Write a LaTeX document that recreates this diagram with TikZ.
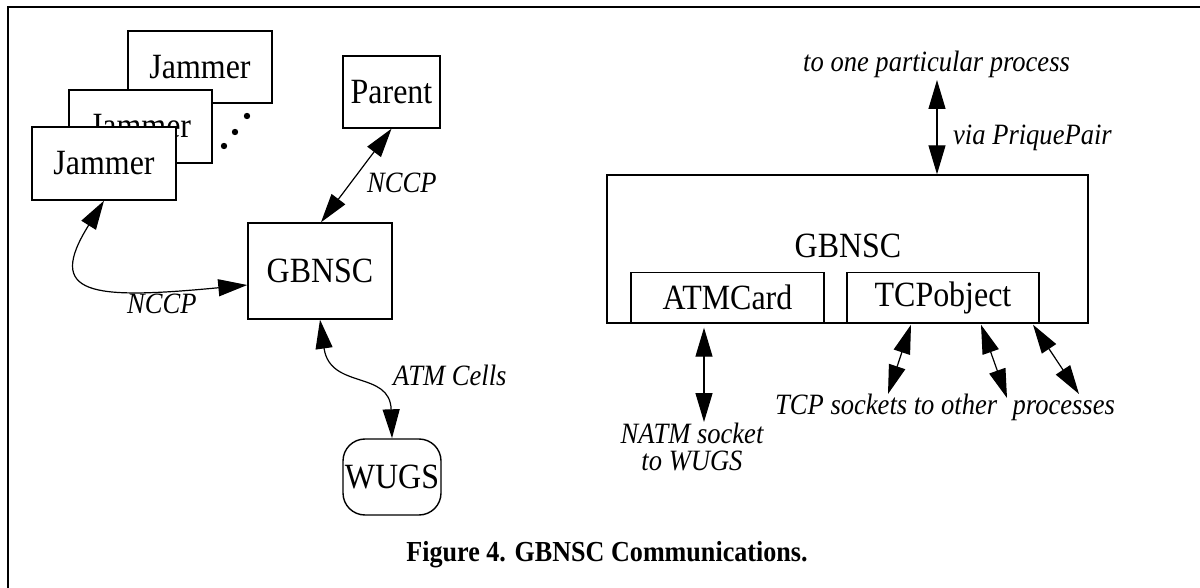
\documentclass[tikz,border=0pt]{standalone}
\usepackage{fontspec}
\setmainfont{Liberation Serif}[FakeStretch=0.9]
\usetikzlibrary{arrows.meta,calc}
\begin{document}
\begin{tikzpicture}[x=1pt,y=-1pt,
  box/.style={draw, line width=1.4pt, fill=white, inner sep=0pt,
    font=\fontsize{35.5}{40}\selectfont},
  lbl/.style={font=\fontsize{29.5}{26.5}\selectfont\itshape, inner sep=0pt},
  link/.style={line width=1.2pt, {Triangle[length=29pt,width=17pt]}-{Triangle[length=29pt,width=17pt]}},
]
\useasboundingbox (0,0) rectangle (1200,588);
% page frame
\draw[line width=2pt] (8,588) -- (8,7) -- (1200,7);

% ---- left: process view ----
\node[box, minimum width=144pt, minimum height=72pt] (j3) at (200,67) {Jammer};
\node[box, minimum width=143pt, minimum height=73pt] (j2) at (140.5,126.5) {Jammer};
\node[box, minimum width=144pt, minimum height=73pt] (j1) at (104,163.5) {Jammer};
\fill (247,116) circle (3.2pt) (235,132) circle (3.2pt) (224,146) circle (3.2pt);

\node[box, minimum width=97pt, minimum height=72pt] (parent) at (391.5,92) {Parent};
\node[box, minimum width=144pt, minimum height=96pt] (gl) at (320,271) {GBNSC};
\node[box, rounded corners=22pt, minimum width=98pt, minimum height=76pt] (wugs) at (392,477) {WUGS};

\draw[link] (parent.south) -- ([xshift=1pt]gl.north);
\node[lbl, anchor=base west] (n1) at (367,193) {NCCP};

\draw[link] (j1.south) .. controls (45,295) and (90,300) .. ($(gl.west)+(0,14)$);
\node[lbl, anchor=base west] (n2) at (127,313) {NCCP};

\draw[link] (gl.south) .. controls (330,390) and (390,370) .. (wugs.north);
\node[lbl, anchor=base west] (atmc) at (393,385) {ATM Cells};

% ---- right: internal structure ----
\node[draw, line width=1.4pt, minimum width=481pt, minimum height=148pt, inner sep=0pt] (big) at (847.5,249) {};
\node[font=\fontsize{35.5}{40}\selectfont, inner sep=0pt, anchor=base] (bigl) at (848,257.5) {GBNSC};
\node[box, minimum width=193pt, minimum height=50.5pt] (atm) at (727.5,297.75) {ATMCard};
\node[box, minimum width=192pt, minimum height=50.5pt] (tcp) at (943,297.75) {TCPobject};

\coordinate (up) at (937,80);
\draw[link] (up) -- (up |- big.north);
\node[lbl, anchor=base west] (l1) at (803,72) {to one particular process};
\node[lbl, anchor=base west] (l2) at (953,145) {via PriquePair};

\coordinate (natm) at (704,422);
\draw[link] ($(natm |- atm.south)+(0,4)$) -- (natm);
\node[lbl, align=center] (l3) at (692,447) {NATM socket\\to WUGS};

\coordinate (t1) at (888,394);
\coordinate (t2) at (1007,398);
\coordinate (t3) at (1079,394);
\draw[link] ($(tcp.south)+(-32,1)$) -- (t1);
\draw[link] ($(tcp.south)+(38,1)$) -- (t2);
\draw[link] ($(tcp.south)+(90,1)$) -- (t3);
\node[lbl, anchor=base west] (l4) at (775,414) {TCP sockets to other\hspace{15.5pt}processes};

% caption
\node[font=\fontsize{29}{32}\selectfont\bfseries, anchor=base, inner sep=0pt] (cap) at (607,561)
  {Figure 4. GBNSC Communications.};
\end{tikzpicture}
\end{document}
